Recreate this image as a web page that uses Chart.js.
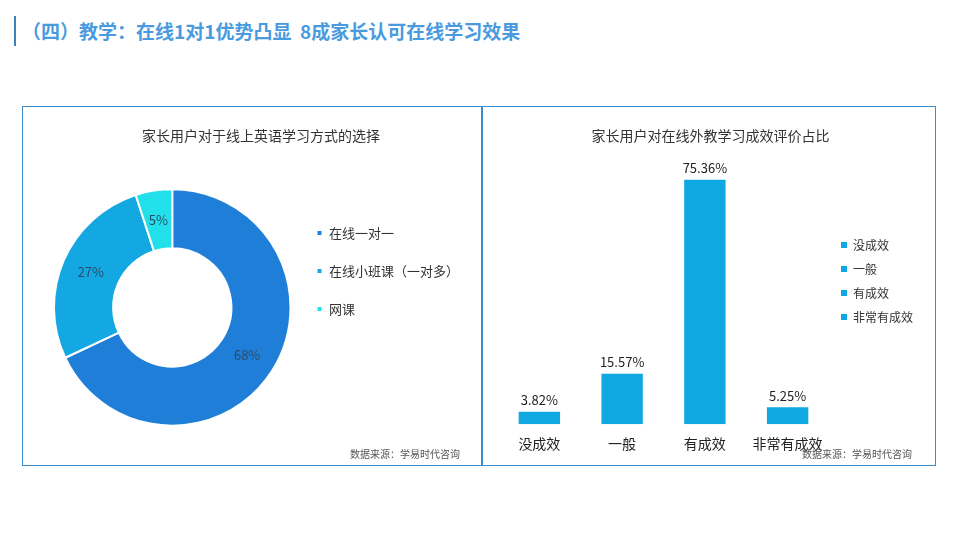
<!DOCTYPE html><html><head><meta charset="utf-8">
<script src="https://cdn.jsdelivr.net/npm/chart.js@4/dist/chart.umd.min.js"></script>
<style>
body{margin:0;width:960px;height:540px;background:#fff;font-family:"Noto Sans CJK SC",sans-serif;position:relative;overflow:hidden}
#t{position:absolute;left:14px;top:16px;height:30px;border-left:2px solid #3b82c4;padding-left:6px;font-size:19px;font-weight:bold;color:#4a9ae0;line-height:30px}
.box{position:absolute;top:106px;height:358px;border:1px solid #3b8ccc}
.src{position:absolute;font-size:10px;color:#555}
canvas{position:absolute}
</style></head><body>
<div id="t">（四）教学：在线1对1优势凸显&nbsp; 8成家长认可在线学习效果</div>
<div class="box" style="left:22px;width:458px"></div>
<div class="box" style="left:482px;width:452px"></div>
<div style="position:absolute;left:23px;top:107px;width:456px;height:356px"><canvas id="c1"></canvas></div>
<div style="position:absolute;left:483px;top:107px;width:450px;height:356px"><canvas id="c2"></canvas></div>
<div class="src" style="left:350px;top:446px">数据来源：学易时代咨询</div>
<div class="src" style="left:802px;top:446px">数据来源：学易时代咨询</div>
<script>
const donutLabels=["在线一对一","在线小班课（一对多）","网课"];
const donutValues=[68,27,5];
const donutColors=["#1f7fd8","#14a8e2","#22e0ea"];
const barLabels=["没成效","一般","有成效","非常有成效"];
const barValues=[3.82,15.57,75.36,5.25];
const font="'Noto Sans CJK SC', sans-serif";
Chart.defaults.font.family=font;Chart.defaults.color="#333";
const donutText={id:'dt',afterDatasetsDraw(c){const x=c.ctx,m=c.getDatasetMeta(0);x.save();x.font="13px "+font;x.fillStyle="#2a4a6a";x.textAlign="center";x.textBaseline="middle";
m.data.forEach((a,i)=>{const p=a.tooltipPosition();x.fillText(donutValues[i]+"%",p.x,p.y);});x.restore();}};
new Chart(c1,{type:'doughnut',data:{labels:donutLabels,datasets:[{data:donutValues,backgroundColor:donutColors,borderColor:"#fff",borderWidth:2}]},
options:{responsive:true,maintainAspectRatio:false,animation:false,cutout:'50%',layout:{padding:{left:30,right:10,top:0,bottom:28}},
plugins:{title:{display:true,text:"家长用户对于线上英语学习方式的选择",font:{size:14,weight:'normal'},color:"#333",padding:{top:20,bottom:36}},
legend:{position:'right',labels:{boxWidth:6,boxHeight:6,padding:25,font:{size:13},color:"#333"}},tooltip:{enabled:false}}},plugins:[donutText]});
const barText={id:'bt',afterDatasetsDraw(c){const x=c.ctx,m=c.getDatasetMeta(0);x.save();x.font="13px "+font;x.fillStyle="#222";x.textAlign="center";x.textBaseline="bottom";
m.data.forEach((b,i)=>x.fillText(barValues[i].toFixed(2)+"%",b.x,b.y-5));x.restore();}};
new Chart(c2,{type:'bar',data:{labels:barLabels,datasets:barLabels.map((l,i)=>({label:l,data:barLabels.map((_,j)=>j===i?barValues[i]:null),backgroundColor:"#0fa8e0",barPercentage:0.5,categoryPercentage:1,skipNull:true,grouped:false}))},
options:{responsive:true,maintainAspectRatio:false,animation:false,layout:{padding:{left:15,right:10,top:0,bottom:8}},
scales:{x:{grid:{display:false},border:{display:false},ticks:{font:{size:14},color:"#222"}},y:{min:0,max:76,display:false}},
plugins:{title:{display:true,text:"家长用户对在线外教学习成效评价占比",font:{size:14,weight:'normal'},color:"#333",padding:{top:20,bottom:34}},
legend:{position:'right',labels:{boxWidth:6,boxHeight:6,padding:12,font:{size:12},color:"#333"}},tooltip:{enabled:false}}},
plugins:[{id:'bt2',afterDatasetsDraw(c){const x=c.ctx;x.save();x.font="13px "+font;x.fillStyle="#222";x.textAlign="center";x.textBaseline="bottom";
c.data.datasets.forEach((d,i)=>{const b=c.getDatasetMeta(i).data[i];x.fillText(barValues[i].toFixed(2)+"%",b.x,b.y-5);});x.restore();}}]});
</script></body></html>
